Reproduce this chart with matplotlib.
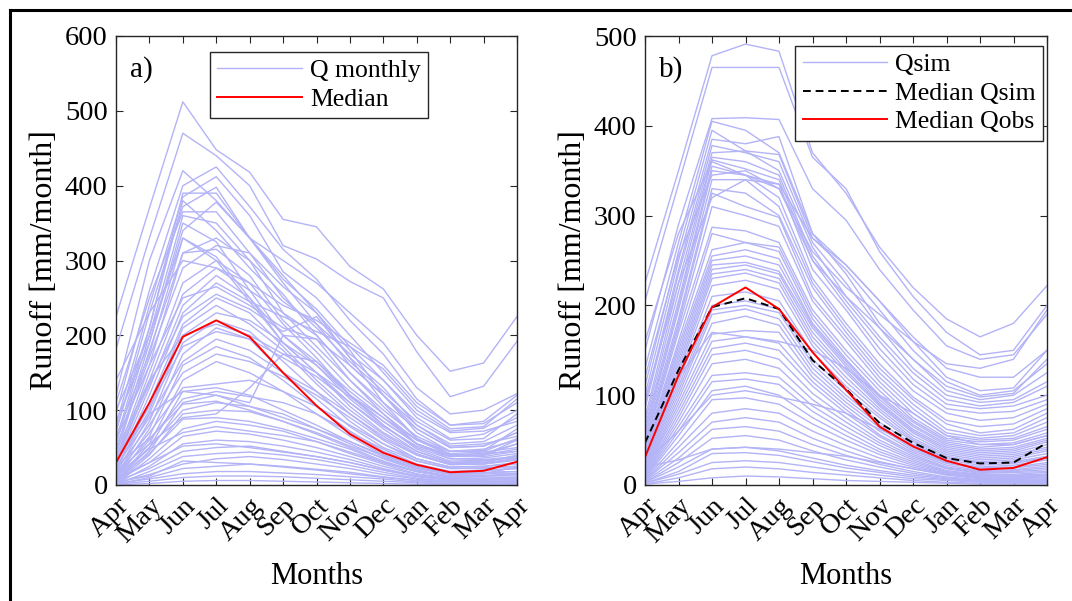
import numpy as np
import matplotlib
matplotlib.use('Agg')
from matplotlib import pyplot as plt
from matplotlib.lines import Line2D

plt.rcParams['font.family'] = ['Liberation Serif', 'DejaVu Serif']

# Month labels (Apr to Apr)
months = ['Apr', 'May', 'Jun', 'Jul', 'Aug', 'Sep', 'Oct', 'Nov', 'Dec', 'Jan', 'Feb', 'Mar', 'Apr']

# Panel a: monthly observed runoff per catchment [mm/month]
q_monthly = [
    [225, 370, 512, 448, 418, 355, 345, 292, 262, 200, 152, 163, 225],
    [182, 330, 470, 440, 400, 320, 302, 272, 250, 178, 118, 132, 192],
    [120, 300, 420, 380, 330, 300, 270, 230, 190, 130, 95, 100, 122],
    [95, 260, 400, 425, 372, 315, 275, 220, 175, 115, 80, 82, 110],
    [80, 240, 385, 412, 360, 285, 250, 200, 150, 100, 72, 76, 100],
    [70, 230, 372, 398, 330, 275, 235, 185, 140, 90, 62, 68, 90],
    [60, 210, 390, 390, 330, 270, 215, 160, 120, 80, 55, 58, 80],
    [110, 250, 365, 365, 310, 250, 210, 165, 125, 85, 60, 62, 95],
    [55, 200, 360, 350, 300, 255, 200, 150, 110, 75, 50, 52, 70],
    [45, 190, 340, 378, 330, 280, 230, 170, 130, 80, 52, 55, 65],
    [75, 210, 380, 340, 290, 245, 215, 175, 140, 95, 70, 72, 85],
    [40, 180, 310, 330, 300, 230, 185, 140, 100, 65, 45, 48, 60],
    [35, 160, 310, 315, 280, 220, 178, 130, 95, 60, 40, 42, 55],
    [50, 170, 290, 320, 310, 265, 230, 180, 120, 70, 45, 45, 62],
    [30, 150, 270, 300, 270, 215, 170, 120, 85, 55, 38, 40, 48],
    [28, 140, 255, 290, 260, 230, 200, 150, 105, 62, 40, 42, 45],
    [25, 130, 240, 280, 250, 200, 160, 115, 80, 50, 35, 36, 42],
    [60, 160, 250, 265, 240, 210, 195, 160, 120, 75, 50, 52, 70],
    [20, 120, 230, 270, 245, 190, 150, 105, 70, 45, 30, 32, 38],
    [38, 135, 225, 255, 235, 205, 225, 170, 110, 62, 42, 44, 50],
    [18, 110, 215, 250, 230, 185, 140, 100, 68, 42, 28, 30, 35],
    [22, 100, 210, 240, 215, 180, 135, 95, 62, 40, 27, 28, 33],
    [15, 95, 200, 230, 220, 190, 160, 120, 80, 48, 32, 33, 36],
    [45, 140, 200, 215, 200, 175, 150, 118, 85, 55, 38, 40, 55],
    [12, 85, 190, 220, 205, 165, 125, 85, 55, 35, 24, 25, 28],
    [30, 105, 185, 205, 195, 170, 145, 110, 75, 45, 30, 30, 40],
    [10, 75, 175, 210, 195, 150, 115, 78, 50, 32, 22, 23, 25],
    [25, 90, 165, 195, 180, 150, 125, 95, 65, 40, 28, 28, 35],
    [8, 65, 160, 185, 170, 140, 105, 72, 45, 28, 18, 20, 22],
    [20, 80, 150, 175, 165, 145, 120, 90, 60, 35, 24, 25, 30],
    [6, 55, 140, 165, 150, 125, 95, 65, 40, 25, 16, 17, 18],
    [15, 70, 130, 135, 140, 125, 105, 80, 55, 32, 22, 22, 25],
    [5, 50, 125, 130, 120, 100, 80, 58, 38, 22, 14, 15, 15],
    [12, 60, 115, 125, 118, 110, 95, 70, 48, 28, 18, 19, 22],
    [4, 45, 110, 120, 105, 95, 75, 55, 35, 20, 12, 13, 12],
    [10, 50, 100, 110, 105, 90, 75, 58, 40, 24, 15, 16, 18],
    [3, 40, 95, 100, 98, 85, 68, 50, 32, 18, 10, 11, 10],
    [8, 42, 88, 90, 85, 75, 62, 48, 30, 18, 11, 12, 14],
    [2, 35, 75, 85, 80, 72, 58, 42, 28, 15, 9, 9, 8],
    [6, 30, 65, 72, 68, 60, 50, 38, 25, 14, 8, 9, 10],
    [2, 25, 55, 60, 58, 52, 44, 34, 22, 12, 7, 7, 6],
    [5, 22, 45, 50, 52, 45, 38, 30, 20, 11, 6, 6, 8],
    [1, 18, 38, 42, 44, 40, 34, 26, 17, 9, 5, 5, 4],
    [3, 14, 28, 35, 38, 34, 28, 22, 14, 8, 4, 4, 5],
    [1, 10, 22, 25, 28, 25, 21, 17, 11, 6, 3, 3, 3],
    [2, 8, 15, 18, 18, 16, 14, 11, 8, 4, 2, 2, 3],
    [1, 5, 10, 12, 12, 11, 9, 7, 5, 3, 1, 1, 2],
    [0, 2, 5, 6, 6, 5, 4, 3, 2, 1, 1, 1, 1],
    [140, 230, 300, 290, 270, 240, 220, 190, 160, 110, 80, 85, 120],
    [85, 190, 350, 325, 260, 200, 165, 120, 90, 60, 45, 46, 75],
    [65, 175, 330, 305, 250, 190, 150, 110, 78, 52, 38, 40, 60],
    [100, 200, 330, 300, 245, 225, 205, 185, 155, 105, 75, 78, 115],
    [35, 95, 125, 120, 110, 200, 195, 140, 95, 55, 40, 38, 45],
    [18, 55, 90, 95, 130, 175, 165, 125, 90, 55, 35, 34, 38],
    [14, 48, 70, 78, 72, 66, 58, 44, 30, 18, 12, 12, 16],
    [9, 30, 52, 55, 50, 44, 38, 30, 20, 12, 8, 8, 10],
    [4, 12, 32, 30, 28, 24, 20, 15, 10, 6, 4, 4, 5],
    [26, 62, 108, 112, 100, 85, 70, 52, 36, 22, 15, 15, 24],
]
median_a = [30, 110, 198, 220, 198, 150, 106, 68, 43, 27, 17, 19, 31]

# Panel b: simulated runoff per catchment [mm/month]
q_sim = [
    [225, 350, 478, 491, 483, 370, 325, 265, 220, 185, 165, 180, 222],
    [205, 335, 465, 465, 465, 365, 330, 260, 210, 170, 145, 150, 200],
    [150, 290, 408, 409, 407, 330, 295, 240, 195, 155, 140, 145, 190],
    [130, 270, 405, 395, 370, 280, 245, 205, 165, 130, 120, 120, 150],
    [110, 260, 395, 372, 368, 275, 240, 195, 150, 115, 100, 105, 135],
    [100, 250, 385, 380, 388, 280, 235, 180, 140, 105, 95, 100, 125],
    [90, 240, 378, 370, 360, 270, 225, 175, 130, 100, 92, 95, 115],
    [85, 235, 370, 372, 350, 265, 210, 165, 125, 95, 88, 92, 110],
    [75, 225, 365, 360, 345, 255, 205, 160, 118, 90, 85, 88, 100],
    [70, 215, 362, 352, 340, 250, 200, 152, 112, 85, 80, 82, 95],
    [65, 205, 355, 345, 335, 240, 195, 145, 105, 80, 72, 75, 90],
    [60, 200, 350, 345, 320, 230, 180, 135, 98, 72, 65, 68, 85],
    [58, 195, 340, 340, 310, 225, 175, 130, 95, 68, 58, 62, 80],
    [55, 185, 330, 325, 300, 220, 170, 125, 90, 62, 55, 58, 75],
    [50, 180, 325, 310, 298, 210, 165, 120, 85, 58, 52, 55, 70],
    [48, 175, 310, 300, 288, 205, 160, 115, 80, 55, 50, 52, 65],
    [45, 170, 287, 283, 270, 195, 150, 110, 75, 52, 48, 50, 62],
    [42, 160, 280, 270, 265, 190, 145, 105, 72, 50, 45, 47, 58],
    [40, 155, 262, 270, 260, 185, 140, 100, 70, 48, 42, 45, 55],
    [38, 150, 255, 262, 252, 180, 138, 98, 67, 46, 40, 42, 52],
    [36, 145, 250, 255, 245, 178, 135, 95, 65, 44, 38, 40, 50],
    [35, 140, 245, 248, 238, 175, 132, 92, 62, 42, 36, 38, 48],
    [32, 135, 240, 245, 235, 170, 128, 90, 60, 40, 34, 36, 45],
    [30, 130, 235, 240, 230, 165, 125, 88, 58, 38, 32, 34, 42],
    [28, 125, 230, 236, 225, 160, 120, 85, 55, 36, 30, 32, 40],
    [26, 120, 222, 228, 218, 155, 115, 82, 52, 34, 28, 30, 38],
    [24, 115, 210, 215, 205, 148, 110, 78, 50, 32, 26, 28, 35],
    [22, 110, 200, 205, 196, 140, 105, 75, 48, 30, 24, 26, 32],
    [20, 105, 195, 200, 192, 135, 100, 70, 45, 28, 22, 24, 30],
    [18, 100, 190, 196, 185, 130, 96, 67, 42, 26, 20, 22, 28],
    [16, 95, 180, 188, 178, 125, 92, 64, 40, 25, 19, 20, 25],
    [15, 90, 168, 172, 170, 120, 88, 60, 38, 24, 18, 19, 23],
    [14, 85, 160, 165, 158, 115, 84, 56, 36, 22, 16, 17, 21],
    [12, 80, 152, 158, 150, 110, 80, 54, 34, 20, 15, 16, 19],
    [11, 75, 145, 150, 140, 102, 75, 50, 32, 19, 14, 15, 17],
    [10, 70, 135, 140, 130, 95, 70, 47, 30, 18, 13, 14, 15],
    [9, 65, 122, 125, 120, 88, 65, 44, 28, 16, 12, 12, 14],
    [8, 60, 115, 118, 112, 82, 60, 40, 26, 15, 11, 11, 12],
    [7, 55, 105, 110, 100, 75, 55, 37, 24, 14, 10, 10, 11],
    [6, 48, 95, 97, 90, 68, 50, 34, 22, 13, 9, 9, 10],
    [5, 42, 80, 85, 80, 60, 44, 30, 20, 12, 8, 8, 9],
    [5, 36, 70, 75, 70, 52, 38, 26, 18, 11, 7, 7, 8],
    [4, 30, 62, 65, 60, 45, 33, 23, 15, 9, 6, 6, 7],
    [3, 25, 52, 55, 50, 38, 28, 20, 13, 8, 5, 5, 6],
    [3, 20, 40, 42, 38, 30, 22, 16, 11, 7, 4, 4, 5],
    [2, 15, 35, 36, 33, 26, 19, 14, 9, 6, 4, 4, 4],
    [2, 12, 25, 27, 25, 20, 15, 11, 7, 5, 3, 3, 3],
    [1, 8, 18, 20, 18, 14, 11, 8, 5, 3, 2, 2, 2],
    [1, 4, 8, 10, 9, 7, 5, 4, 3, 2, 1, 1, 1],
    [120, 255, 345, 350, 330, 250, 210, 175, 140, 110, 98, 102, 140],
    [95, 225, 320, 340, 335, 275, 245, 205, 160, 120, 105, 108, 150],
    [160, 280, 360, 345, 330, 260, 220, 190, 160, 135, 130, 140, 195],
    [45, 120, 170, 165, 160, 150, 130, 100, 80, 55, 45, 45, 55],
    [25, 60, 100, 105, 98, 90, 80, 62, 45, 30, 25, 25, 30],
    [20, 28, 40, 42, 40, 36, 32, 25, 18, 12, 10, 10, 12],
]
median_qsim = [47, 128, 198, 208, 196, 139, 107, 69, 47, 30, 24, 25, 47]
median_qobs = [31, 122, 198, 220, 196, 148, 106, 65, 43, 27, 17, 19, 31]

light = '#b3b3f7'
fs_tick = 20.5
fs_leg = 18.5

fig = plt.figure(figsize=(10.72, 6.01), dpi=100)
W, H = 1072, 601


def make_axes(left, right, top, bottom):
    return fig.add_axes([left / W, 1 - bottom / H, (right - left) / W, (bottom - top) / H])


def style_axes(ax, ymax, tag):
    x = np.arange(len(months))
    ax.set_xlim(0, len(months) - 1)
    ax.set_ylim(0, ymax)
    ax.set_xticks(x)
    ax.set_xticklabels(months, rotation=45, ha='right', va='top', rotation_mode='anchor')
    ax.set_yticks(np.arange(0, ymax + 1, 100))
    ax.tick_params(direction='in', top=True, right=True, length=5, width=0.8,
                   labelsize=fs_tick, colors='#262626', labelcolor='black', pad=6)
    for s in ax.spines.values():
        s.set_color('#262626')
        s.set_linewidth(1.0)
    ax.set_xlabel('Months', fontsize=22, labelpad=10)
    ax.set_ylabel('Runoff [mm/month]', fontsize=23, labelpad=4)
    ax.text(0.035, 0.925, tag, transform=ax.transAxes, fontsize=21, va='center')


x = np.arange(len(months))

# Panel a
ax1 = make_axes(116, 517, 36, 485)
for q in q_monthly:
    ax1.plot(x, q, color=light, linewidth=1.0)
ax1.plot(x, median_a, color='red', linewidth=1.4)
style_axes(ax1, 600, 'a)')
h1 = [Line2D([], [], color=light, linewidth=1.0), Line2D([], [], color='red', linewidth=1.4)]
leg1 = ax1.legend(h1, ['Q monthly', 'Median'], loc='upper left', bbox_to_anchor=(0.235, 0.965),
                  fontsize=fs_leg, fancybox=False, framealpha=1, edgecolor='#262626',
                  handlelength=3.3, borderpad=0.28, labelspacing=0.22, handletextpad=0.3,
                  borderaxespad=0)
leg1.get_frame().set_linewidth(1.0)

# Panel b
ax2 = make_axes(645, 1047, 36, 485)
for q in q_sim:
    ax2.plot(x, q, color=light, linewidth=1.0)
ax2.plot(x, median_qsim, color='black', linestyle=(0, (4, 2.5)), linewidth=1.4)
ax2.plot(x, median_qobs, color='red', linewidth=1.4)
style_axes(ax2, 500, 'b)')
h2 = [Line2D([], [], color=light, linewidth=1.0),
      Line2D([], [], color='black', linestyle=(0, (4, 2.5)), linewidth=1.4),
      Line2D([], [], color='red', linewidth=1.4)]
leg2 = ax2.legend(h2, ['Qsim', 'Median Qsim', 'Median Qobs'], loc='upper right',
                  bbox_to_anchor=(0.99, 0.978), fontsize=fs_leg, fancybox=False, framealpha=1,
                  edgecolor='#262626', handlelength=3.3, borderpad=0.28, labelspacing=0.22,
                  handletextpad=0.3, borderaxespad=0)
leg2.get_frame().set_linewidth(1.0)

# Outer frame (left and top edges visible)
fig.add_artist(Line2D([10 / W, 10 / W], [0, 1 - 10 / H], color='black', linewidth=2.2,
                      transform=fig.transFigure))
fig.add_artist(Line2D([10 / W, 1], [1 - 10 / H, 1 - 10 / H], color='black', linewidth=2.2,
                      transform=fig.transFigure))

fig.savefig('out.png', dpi=100)
